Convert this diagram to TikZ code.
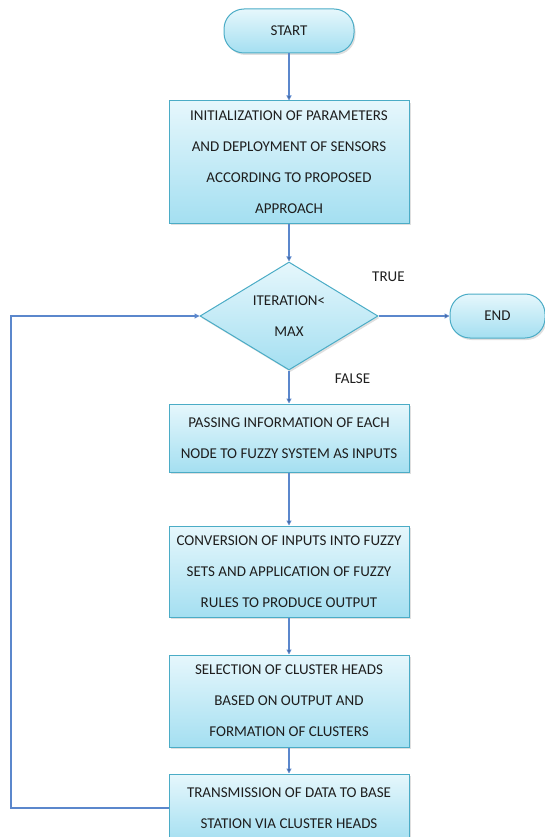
\documentclass[tikz,border=0pt]{standalone}
\usepackage{fontspec}
\setmainfont{Carlito}
\usetikzlibrary{positioning,arrows.meta,shapes.geometric,shadows}
\definecolor{boxline}{HTML}{4BACC6}
\definecolor{boxtop}{HTML}{E6F7FC}
\definecolor{boxbot}{HTML}{A4DFF1}
\definecolor{arrowblue}{HTML}{5B87CC}
\definecolor{txt}{HTML}{1E1E1E}
\tikzset{
->,
>={Triangle[width=5pt,length=5pt]},
link/.style={draw=arrowblue, line width=1.1pt},
base/.style={draw=boxline, line width=1pt, top color=boxtop, bottom color=boxbot,
  text=txt, font=\fontsize{15}{31}\selectfont, align=center,
  drop shadow={opacity=.25, shadow xshift=1.5pt, shadow yshift=-2pt}},
process/.style={base, rectangle, minimum width=240pt},
terminal/.style={base, rectangle, rounded corners=20pt, minimum height=44pt},
decision/.style={base, diamond, aspect=1.65, minimum width=178pt, minimum height=108pt, inner sep=0pt},
lbl/.style={text=txt, font=\fontsize{15}{31}\selectfont},
}

\begin{document}
\begin{tikzpicture}

    \useasboundingbox (0,0) rectangle (545pt,-837pt);

    \node[terminal, minimum width=130pt] (start) at (289pt,-31pt) {START};
    \node[process, minimum height=122pt, below=47pt of start] (init)
        {INITIALIZATION OF PARAMETERS\\ AND DEPLOYMENT OF SENSORS\\ ACCORDING TO PROPOSED\\ APPROACH};
    \node[decision, below=38pt of init] (dec) {ITERATION<\\ MAX};
    \node[terminal, minimum width=95pt, right=71pt of dec] (stop) {END};
    \node[process, minimum height=68pt, below=33pt of dec] (pass)
        {PASSING INFORMATION OF EACH\\ NODE TO FUZZY SYSTEM AS INPUTS};
    \node[process, minimum height=91pt, below=53pt of pass] (conv)
        {CONVERSION OF INPUTS INTO FUZZY\\ SETS AND APPLICATION OF FUZZY\\ RULES TO PRODUCE OUTPUT};
    \node[process, minimum height=92pt, below=37pt of conv] (sel)
        {SELECTION OF CLUSTER HEADS\\ BASED ON OUTPUT AND\\ FORMATION OF CLUSTERS};
    \node[process, minimum height=68pt, below=26pt of sel] (trans)
        {TRANSMISSION OF DATA TO BASE\\ STATION VIA CLUSTER HEADS};
    \coordinate (loopx) at (11pt,0);

    \draw[link] (start) edge (init);
    \draw[link] (init) edge (dec);
    \draw[link] (dec) edge node[lbl, pos=.14, above=31pt]{TRUE} (stop);
    \draw[link] (dec) edge node[lbl, pos=.25, right=42pt]{FALSE} (pass);
    \draw[link] (pass) edge (conv);
    \draw[link] (conv) edge (sel);
    \draw[link] (sel) edge (trans);
    \draw[link] (trans.west) -- (trans.west -| loopx) |- (dec.west);

\end{tikzpicture}
\end{document}
